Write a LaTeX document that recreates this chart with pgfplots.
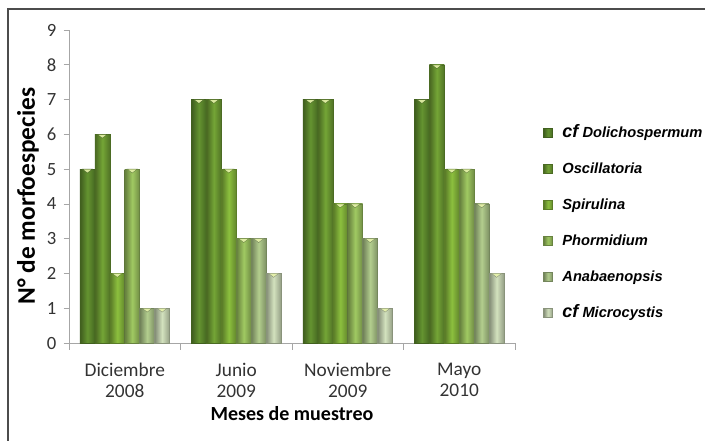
\documentclass[border=0pt]{standalone}
\usepackage{pgfplots}
\pgfplotsset{compat=1.18}
\usepackage{fontspec}
\setmainfont{Carlito}
\newfontfamily\legfont{Liberation Sans}

% bar colours: base tone for each taxon
\definecolor{c1}{HTML}{649430}
\definecolor{c2}{HTML}{74A536}
\definecolor{c3}{HTML}{8CC03E}
\definecolor{c4}{HTML}{A0C962}
\definecolor{c5}{HTML}{B3CE8E}
\definecolor{c6}{HTML}{D3E2BE}
\definecolor{axgray}{HTML}{A6A6A6}
\definecolor{bevel}{HTML}{E6F2AA}

% one shaded bar with a light bevel at its top; #2 is the bar's offset from the group centre
\pgfplotsset{
  cyl/.style 2 args={ybar, bar shift=#2,
    draw=#1!65!black, line width=0.3pt,
    left color=#1!62!black, right color=#1!70!black, middle color=#1,
    mark=triangle*, mark size=4.3pt,
    mark options={xshift=#2, yshift=-1pt, rotate=180, yscale=0.45,
      draw=none, fill=bevel, fill opacity=0.9}},
}

\begin{document}
\begin{tikzpicture}
\begin{axis}[
  scale only axis, width=334.5pt, height=234.75pt,
  bar width=0.134,
  xmin=-0.5, xmax=3.5, ymin=0, ymax=9,
  xtick={0,1,2,3},
  xticklabels={{Diciembre\\2008},{Junio\\2009},{Noviembre\\2009},{Mayo\\2010}},
  xticklabel style={align=center, font=\fontsize{14.5}{16}\selectfont, text=black!80, yshift=-7.5pt},
  minor xtick={-0.5,0.5,1.5,2.5,3.5},
  ytick={0,...,9},
  yticklabel style={font=\fontsize{14}{15}\selectfont, text=black!80, xshift=-2pt},
  /pgf/number format/assume math mode=true,
  axis x line*=bottom, axis y line*=left,
  axis line style={draw=axgray, -},
  tick align=outside,
  tick style={draw=axgray, line width=0.6pt},
  major tick length=4pt, minor tick length=5pt,
  major x tick style={draw=none},
  xlabel={Meses de muestreo},
  ylabel={N° de morfoespecies},
  xlabel style={font=\bfseries\fontsize{15}{17}\selectfont,
    at={(axis description cs:0.5,-0.225)}, anchor=center},
  ylabel style={font=\bfseries\fontsize{19}{21}\selectfont,
    at={(axis description cs:-0.092,0.47)}, anchor=center},
  legend cell align=left,
  legend style={draw=none, fill=none,
    at={(axis description cs:1.054,0.383)}, anchor=west,
    row sep=10pt,
    font=\legfont\bfseries\itshape\fontsize{11}{14}\selectfont,
    nodes={inner sep=2pt, text height=10pt, text depth=3pt}},
  legend image code/.code={\fill[#1] (0pt,-3.4pt) rectangle (6.8pt,3.4pt); \path (12pt,0pt);},
]
% cf Dolichospermum
\addplot[cyl={c1}{-28.02pt}] coordinates {(0,5)};
\addlegendentry{{\fontsize{13.5}{14}\selectfont cf} Dolichospermum}
\addplot[cyl={c1}{-28.02pt}, forget plot] coordinates {(1,7)};
\addplot[cyl={c1}{-28.02pt}, forget plot] coordinates {(2,7)};
\addplot[cyl={c1}{-28.02pt}, forget plot] coordinates {(3,7)};
% Oscillatoria
\addplot[cyl={c2}{-16.81pt}] coordinates {(0,6)};
\addlegendentry{Oscillatoria}
\addplot[cyl={c2}{-16.81pt}, forget plot] coordinates {(1,7)};
\addplot[cyl={c2}{-16.81pt}, forget plot] coordinates {(2,7)};
\addplot[cyl={c2}{-16.81pt}, forget plot] coordinates {(3,8)};
% Spirulina
\addplot[cyl={c3}{-5.60pt}] coordinates {(0,2)};
\addlegendentry{Spirulina}
\addplot[cyl={c3}{-5.60pt}, forget plot] coordinates {(1,5)};
\addplot[cyl={c3}{-5.60pt}, forget plot] coordinates {(2,4)};
\addplot[cyl={c3}{-5.60pt}, forget plot] coordinates {(3,5)};
% Phormidium
\addplot[cyl={c4}{5.60pt}] coordinates {(0,5)};
\addlegendentry{Phormidium}
\addplot[cyl={c4}{5.60pt}, forget plot] coordinates {(1,3)};
\addplot[cyl={c4}{5.60pt}, forget plot] coordinates {(2,4)};
\addplot[cyl={c4}{5.60pt}, forget plot] coordinates {(3,5)};
% Anabaenopsis
\addplot[cyl={c5}{16.81pt}] coordinates {(0,1)};
\addlegendentry{Anabaenopsis}
\addplot[cyl={c5}{16.81pt}, forget plot] coordinates {(1,3)};
\addplot[cyl={c5}{16.81pt}, forget plot] coordinates {(2,3)};
\addplot[cyl={c5}{16.81pt}, forget plot] coordinates {(3,4)};
% cf Microcystis
\addplot[cyl={c6}{28.02pt}] coordinates {(0,1)};
\addlegendentry{{\fontsize{13.5}{14}\selectfont cf} Microcystis}
\addplot[cyl={c6}{28.02pt}, forget plot] coordinates {(1,2)};
\addplot[cyl={c6}{28.02pt}, forget plot] coordinates {(2,1)};
\addplot[cyl={c6}{28.02pt}, forget plot] coordinates {(3,2)};
\end{axis}
\pgfresetboundingbox
\begin{scope}[x=0.75pt, y=0.75pt]
  \useasboundingbox (-69,-97) rectangle (636,343);
  \draw[line width=1.5pt, black!70] (-61,-110) -- (-61,333.5) -- (650,333.5);
\end{scope}
\end{tikzpicture}
\end{document}
